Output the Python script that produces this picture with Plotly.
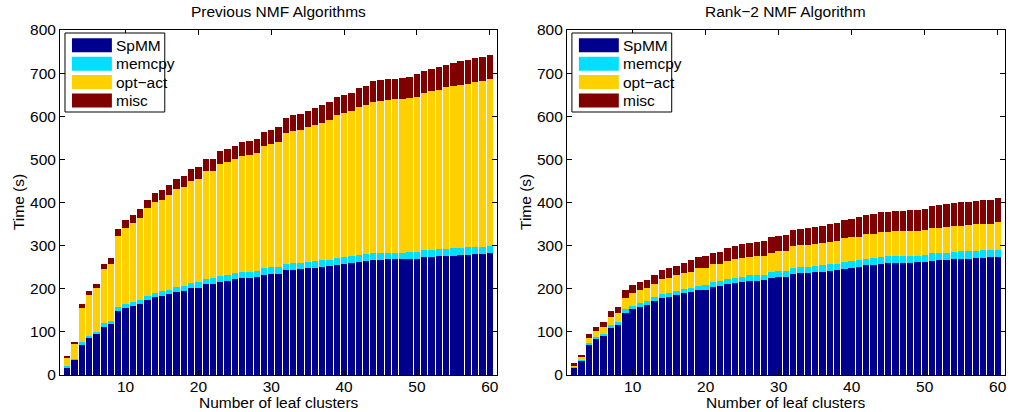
import numpy as np
import plotly.graph_objects as go

clusters = list(range(2, 61))

# Previous NMF algorithms: cumulative stack levels
prev_spmm_top = [18,35,70,86,94,112,119,148,156,159,164,173,180,183,187,193,195,201,202,210,211,216,219,222,225,225,227,232,235,235,243,244,245,247,249,250,253,256,258,260,263,264,266,267,268,268,269,270,270,273,274,276,277,277,278,279,280,281,283]
prev_memcpy_top = [21,38,76,91,100,121,126,157,165,170,175,184,191,194,198,205,207,214,215,222,224,230,233,236,239,240,242,248,250,251,258,260,260,263,264,266,267,271,273,275,279,280,283,283,284,284,284,285,286,290,290,292,293,294,295,296,297,297,300]
prev_optact_top = [40,72,156,185,202,246,258,322,340,352,365,388,401,405,417,431,436,451,455,472,474,489,494,501,508,510,515,530,535,540,561,565,568,575,579,585,591,602,607,613,622,626,633,636,638,640,641,643,645,655,658,662,667,670,672,675,680,682,686]
prev_total = [43,77,164,195,211,258,272,339,359,370,384,406,423,429,440,455,461,478,483,500,501,519,524,532,540,542,548,563,569,574,597,602,605,612,618,625,632,644,649,655,666,670,681,684,686,687,689,692,697,706,709,715,720,723,727,730,735,738,743]

# Rank-2 NMF algorithm: cumulative stack levels
r2_spmm_top = [18,33,70,83,90,109,115,144,153,158,162,171,178,180,185,189,192,196,198,205,206,210,213,216,218,219,220,225,227,228,235,236,236,238,240,242,243,246,248,250,254,255,258,259,260,260,260,261,262,265,266,267,269,270,270,271,272,273,273]
r2_memcpy_top = [20,35,75,88,96,116,122,152,161,166,171,180,187,190,195,199,202,207,209,216,217,222,225,228,231,232,233,238,241,242,249,250,250,253,255,257,258,261,264,266,270,271,274,275,276,276,276,277,278,282,283,284,286,287,287,288,289,290,290]
r2_optact_top = [23,41,86,103,112,135,143,179,189,196,201,212,223,226,231,237,239,247,248,257,257,264,268,271,274,275,277,284,287,288,298,301,301,304,307,309,311,317,319,321,326,328,332,332,333,334,334,335,336,341,342,343,346,346,347,349,350,351,354]
r2_total = [27,47,95,111,123,149,158,197,209,216,221,233,243,247,253,260,267,273,276,284,286,295,299,303,306,308,311,319,322,325,336,339,340,344,346,350,353,359,362,366,371,373,378,379,380,381,382,383,386,392,394,396,398,401,402,403,406,406,410]

series_names = ["SpMM", "memcpy", "opt\u2212act", "misc"]
colors = ["#00008F", "#00DFFF", "#FFD000", "#800000"]
titles = ["Previous NMF Algorithms", "Rank\u22122 NMF Algorithm"]

FONT = "Liberation Sans, Arial, Helvetica, sans-serif"
FS = 15.5

def segments(levels):
    arr = np.array(levels, dtype=float)
    base = np.vstack([np.zeros(arr.shape[1]), arr[:-1]])
    return arr - base

fig = go.Figure()
panels = [
    (segments([prev_spmm_top, prev_memcpy_top, prev_optact_top, prev_total]), "x", "y"),
    (segments([r2_spmm_top, r2_memcpy_top, r2_optact_top, r2_total]), "x2", "y2"),
]
for segs, xa, ya in panels:
    for name, col, vals in zip(series_names, colors, segs):
        fig.add_trace(go.Bar(
            x=clusters, y=vals, name=name, xaxis=xa, yaxis=ya,
            marker=dict(color=col, line=dict(width=0)),
            showlegend=False, hoverinfo="skip",
        ))

W, H = 1011, 412
L, R, T, B = 60, 4, 30, 37
pw = W - L - R
ph = H - T - B
d1 = [0, (498 - L) / pw]
d2 = [(568 - L) / pw, 1]

axis_common = dict(
    showline=True, linecolor="black", linewidth=1, mirror="ticks",
    ticks="inside", ticklen=5, tickcolor="black", showgrid=False, zeroline=False,
    tickfont=dict(family=FONT, size=FS, color="black"),
)
fig.update_layout(
    width=W, height=H, barmode="stack", bargap=0.13,
    plot_bgcolor="white", paper_bgcolor="white",
    margin=dict(l=L, r=R, t=T, b=B),
    xaxis=dict(domain=d1, range=[1, 61], tickvals=[10, 20, 30, 40, 50, 60], anchor="y",
               ticklabelstandoff=-3, **axis_common),
    yaxis=dict(domain=[0, 1], range=[0, 800], dtick=100, anchor="x", **axis_common),
    xaxis2=dict(domain=d2, range=[1, 61], tickvals=[10, 20, 30, 40, 50, 60], anchor="y2",
                ticklabelstandoff=-3, **axis_common),
    yaxis2=dict(domain=[0, 1], range=[0, 800], dtick=100, anchor="x2", **axis_common),
)

def px_x(p):
    return (p - L) / pw

def px_y(p):
    return 1 - (p - T) / ph

annotations = []
shapes = []
for i, (title, xl, xr) in enumerate([(titles[0], 60, 498), (titles[1], 568, 1007)]):
    cx = (xl + xr) / 2
    annotations.append(dict(text=title, x=px_x(cx), y=px_y(11.5), xref="paper", yref="paper",
                            showarrow=False, xanchor="center", yanchor="middle",
                            font=dict(family=FONT, size=FS, color="black")))
    annotations.append(dict(text="Number of leaf clusters", x=px_x(cx), y=px_y(412), xref="paper", yref="paper",
                            showarrow=False, xanchor="center", yanchor="bottom",
                            borderpad=0,
                            font=dict(family=FONT, size=FS, color="black")))
    annotations.append(dict(text="Time (s)", x=px_x(xl - 42), y=px_y(202), xref="paper", yref="paper",
                            showarrow=False, xanchor="center", yanchor="middle", textangle=-90,
                            font=dict(family=FONT, size=FS, color="black")))
    # legend box
    bx0 = xl + 5
    shapes.append(dict(type="rect", xref="paper", yref="paper",
                       x0=px_x(bx0), x1=px_x(bx0 + 100), y0=px_y(112), y1=px_y(33),
                       line=dict(color="black", width=1), fillcolor="white", layer="above"))
    for j, (name, col) in enumerate(zip(series_names, colors)):
        ytop = 38.3 + j * 18.4
        shapes.append(dict(type="rect", xref="paper", yref="paper",
                           x0=px_x(bx0 + 7), x1=px_x(bx0 + 47), y0=px_y(ytop + 14), y1=px_y(ytop),
                           line=dict(width=0), fillcolor=col, layer="above"))
        annotations.append(dict(text=name, x=px_x(bx0 + 49), y=px_y(ytop + 7), xref="paper", yref="paper",
                                showarrow=False, xanchor="left", yanchor="middle",
                                font=dict(family=FONT, size=FS, color="black")))

fig.update_layout(annotations=annotations, shapes=shapes)
fig.write_html("out.html")
